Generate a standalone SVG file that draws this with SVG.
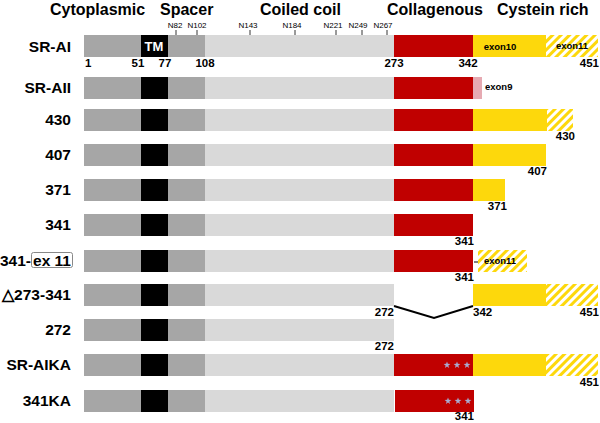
<svg xmlns="http://www.w3.org/2000/svg" width="600" height="423" viewBox="0 0 600 423">
<defs>
<pattern id="hatch" patternUnits="userSpaceOnUse" width="6" height="6" patternTransform="rotate(45)">
<rect x="0" y="0" width="3" height="6" fill="#fdd80c"/>
</pattern>
<symbol id="star" viewBox="-4 -4 8 8" overflow="visible">
<polygon points="0,-3.6 0.85,-1.15 3.4,-1.1 1.35,0.45 2.1,2.9 0,1.45 -2.1,2.9 -1.35,0.45 -3.4,-1.1 -0.85,-1.15" fill="#a8aad0"/>
</symbol>
<g id="nterm">
<rect x="84" y="0" width="57" height="22" fill="#a6a6a6"/>
<rect x="141" y="0" width="27" height="22" fill="#000"/>
<rect x="168" y="0" width="37" height="22" fill="#a6a6a6"/>
<rect x="205" y="0" width="189" height="22" fill="#d9d9d9"/>
</g>
</defs>
<style>
.hd{font-family:"Liberation Sans",Arial,sans-serif;font-weight:bold;font-size:16px;fill:#000}
.lb{font-family:"Liberation Sans",Arial,sans-serif;font-weight:bold;font-size:15.5px;fill:#000;text-anchor:end}
.num{font-family:"Liberation Sans",Arial,sans-serif;font-weight:bold;font-size:11.5px;fill:#000}
.tk{font-family:"Liberation Sans",Arial,sans-serif;font-size:8px;fill:#000;text-anchor:middle}
.ex{font-family:"Liberation Sans",Arial,sans-serif;font-weight:bold;font-size:9.5px;fill:#000}
.red{fill:#c00000}
.yel{fill:#fdd80c}
.hat{fill:url(#hatch)}
.tick{stroke:#000;stroke-width:0.8}
</style>

<g id="headers">
<text class="hd" x="50" y="15">Cytoplasmic</text>
<text class="hd" x="160" y="15">Spacer</text>
<text class="hd" x="260" y="15">Coiled coil</text>
<text class="hd" x="387" y="15">Collagenous</text>
<text class="hd" x="497" y="15">Cystein rich</text>
</g>

<g id="glyco">
<text class="tk" x="175" y="28">N82</text><line class="tick" x1="176" y1="30" x2="176" y2="35"/>
<text class="tk" x="197" y="28">N102</text><line class="tick" x1="197" y1="30" x2="197" y2="35"/>
<text class="tk" x="248" y="28">N143</text><line class="tick" x1="250" y1="30" x2="250" y2="35"/>
<text class="tk" x="292" y="28">N184</text><line class="tick" x1="295" y1="30" x2="295" y2="35"/>
<text class="tk" x="333" y="28">N221</text><line class="tick" x1="336" y1="30" x2="336" y2="35"/>
<text class="tk" x="358" y="28">N249</text><line class="tick" x1="362" y1="30" x2="362" y2="35"/>
<text class="tk" x="383" y="28">N267</text><line class="tick" x1="387" y1="30" x2="387" y2="35"/>
</g>

<g id="row-SR-AI">
<text class="lb" x="71" y="52">SR-AI</text>
<use href="#nterm" y="35"/>
<text x="154" y="51" font-family="Liberation Sans,Arial,sans-serif" font-weight="bold" font-size="13" fill="#fff" text-anchor="middle">TM</text>
<rect class="red" x="394" y="35" width="79" height="22"/>
<rect class="yel" x="473" y="35" width="73" height="22"/>
<rect class="hat" x="546" y="35" width="52" height="22"/>
<text class="ex" x="500" y="50" text-anchor="middle">exon10</text>
<text class="ex" x="572" y="49" text-anchor="middle">exon11</text>
<text class="num" x="85" y="67">1</text>
<text class="num" x="138" y="67" text-anchor="middle">51</text>
<text class="num" x="165" y="67" text-anchor="middle">77</text>
<text class="num" x="205" y="67" text-anchor="middle">108</text>
<text class="num" x="394" y="67" text-anchor="middle">273</text>
<text class="num" x="468" y="67" text-anchor="middle">342</text>
<text class="num" x="599" y="67" text-anchor="end">451</text>
</g>

<g id="row-SR-AII">
<text class="lb" x="71" y="93">SR-AII</text>
<use href="#nterm" y="77"/>
<rect class="red" x="394" y="77" width="79" height="22"/>
<rect x="473" y="77" width="9" height="22" fill="#e6aab2"/>
<text class="ex" x="485" y="90">exon9</text>
</g>

<g id="row-430">
<text class="lb" x="71" y="125">430</text>
<use href="#nterm" y="109"/>
<rect class="red" x="394" y="109" width="79" height="22"/>
<rect class="yel" x="473" y="109" width="74" height="22"/>
<rect class="hat" x="547" y="109" width="26" height="22"/>
<text class="num" x="575" y="140" text-anchor="end">430</text>
</g>

<g id="row-407">
<text class="lb" x="71" y="160">407</text>
<use href="#nterm" y="144"/>
<rect class="red" x="394" y="144" width="79" height="22"/>
<rect class="yel" x="473" y="144" width="73" height="22"/>
<text class="num" x="547" y="175" text-anchor="end">407</text>
</g>

<g id="row-371">
<text class="lb" x="71" y="195">371</text>
<use href="#nterm" y="179"/>
<rect class="red" x="394" y="179" width="79" height="22"/>
<rect class="yel" x="473" y="179" width="32" height="22"/>
<text class="num" x="507" y="210" text-anchor="end">371</text>
</g>

<g id="row-341">
<text class="lb" x="71" y="230">341</text>
<use href="#nterm" y="214"/>
<rect class="red" x="394" y="214" width="79" height="22"/>
<text class="num" x="474" y="245" text-anchor="end">341</text>
</g>

<g id="row-341-ex11">
<text class="lb" x="31" y="266">341-</text>
<rect x="31.5" y="252.5" width="41" height="15" rx="2" fill="none" stroke="#888" stroke-width="1"/>
<text class="lb" x="71" y="266">ex 11</text>
<use href="#nterm" y="250"/>
<rect class="red" x="394" y="250" width="79" height="22"/>
<line x1="474" y1="262" x2="478" y2="262" stroke="#000" stroke-width="1"/>
<rect class="hat" x="478" y="250" width="49" height="22"/>
<text class="ex" x="500" y="264" text-anchor="middle">exon11</text>
<text class="num" x="474" y="281" text-anchor="end">341</text>
</g>

<g id="row-del">
<text class="lb" x="71" y="300" font-family="Liberation Sans,DejaVu Sans,sans-serif">△273-341</text>
<use href="#nterm" y="284"/>
<rect class="yel" x="473" y="284" width="73" height="22"/>
<rect class="hat" x="546" y="284" width="52" height="22"/>
<text class="num" x="394" y="316" text-anchor="end">272</text>
<text class="num" x="473" y="316">342</text>
<text class="num" x="599" y="316" text-anchor="end">451</text>
</g>

<g id="connectors">
<polyline points="394,306 434,318 473,306" fill="none" stroke="#000" stroke-width="2"/>
</g>

<g id="row-272">
<text class="lb" x="71" y="335">272</text>
<use href="#nterm" y="319"/>
<text class="num" x="394" y="350" text-anchor="end">272</text>
</g>

<g id="row-SR-AIKA">
<text class="lb" x="71" y="370">SR-AIKA</text>
<use href="#nterm" y="354"/>
<rect class="red" x="394" y="354" width="79" height="22"/>
<use href="#star" x="443" y="361" width="8" height="8"/>
<use href="#star" x="453" y="361" width="8" height="8"/>
<use href="#star" x="463" y="361" width="8" height="8"/>
<rect class="yel" x="473" y="354" width="73" height="22"/>
<rect class="hat" x="546" y="354" width="52" height="22"/>
<text class="num" x="599" y="386" text-anchor="end">451</text>
</g>

<g id="row-341KA">
<text class="lb" x="71" y="406">341KA</text>
<use href="#nterm" y="390"/>
<rect class="red" x="395" y="390" width="79" height="22"/>
<use href="#star" x="444" y="397" width="8" height="8"/>
<use href="#star" x="454" y="397" width="8" height="8"/>
<use href="#star" x="464" y="397" width="8" height="8"/>
<text class="num" x="474" y="420" text-anchor="end">341</text>
</g>
</svg>
